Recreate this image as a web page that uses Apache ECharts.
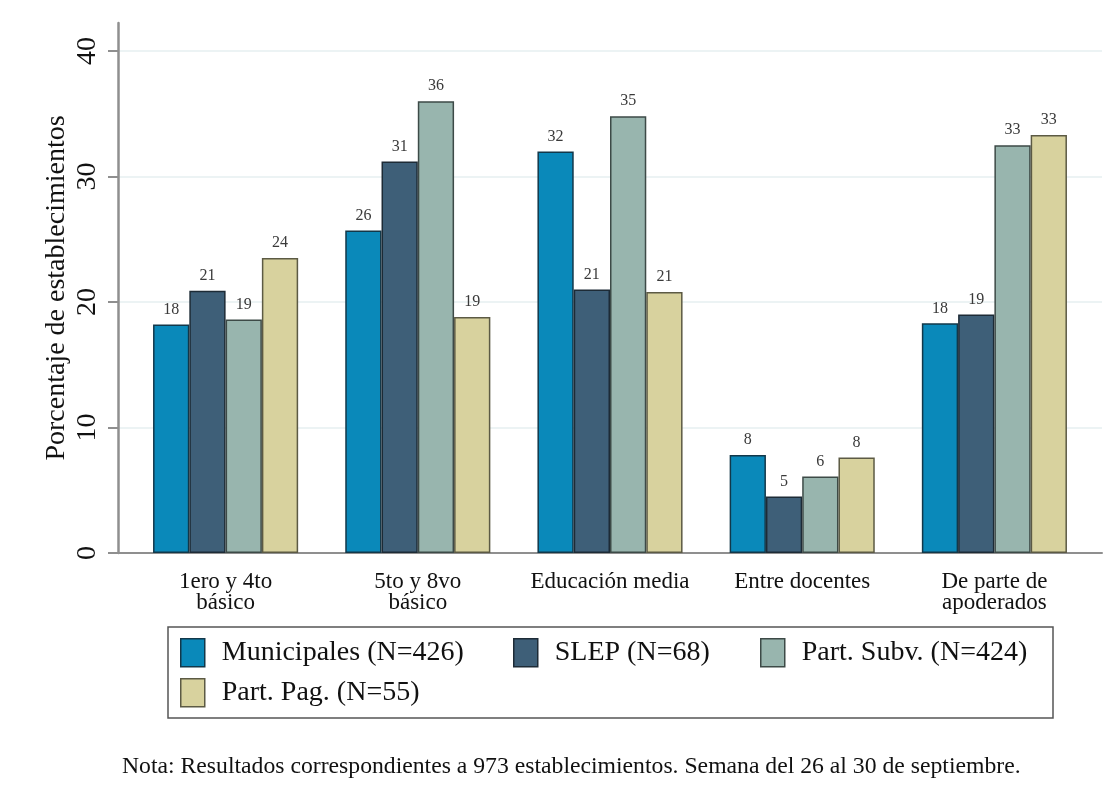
<!DOCTYPE html>
<html>
<head>
<meta charset="utf-8">
<script src="https://cdn.jsdelivr.net/npm/echarts@6/dist/echarts.min.js"></script>
<style>
html,body{margin:0;padding:0;background:#fff;}
#chart{width:1111px;height:793px;}
</style>
</head>
<body>
<div id="chart"></div>
<script>
// ---- data ----
const categories = ['1ero y 4to\nbásico', '5to y 8vo\nbásico', 'Educación media', 'Entre docentes', 'De parte de\napoderados'];
const seriesNames = ['Municipales (N=426)', 'SLEP (N=68)', 'Part. Subv. (N=424)', 'Part. Pag. (N=55)'];
const municipales = [18.2, 25.7, 32.0, 7.8, 18.3];
const slep        = [20.9, 31.2, 21.0, 4.5, 19.0];
const partSubv    = [18.6, 36.0, 34.8, 6.1, 32.5];
const partPag     = [23.5, 18.8, 20.8, 7.6, 33.3];
const yTicks = [0, 10, 20, 30, 40];
const yTitle = 'Porcentaje de establecimientos';
const note = 'Nota: Resultados correspondientes a 973 establecimientos. Semana del 26 al 30 de septiembre.';

// ---- styles ----
const serif = '"Liberation Serif", "Times New Roman", serif';
const fills = ['#0a89ba', '#3e5f78', '#98b5ae', '#d8d29e'];
const borders = ['#12384a', '#1d2b36', '#3d4a47', '#5c5a44'];
const values = [municipales, slep, partSubv, partPag];
const axisGray = '#8f8f8f';
const yMax = 40, plotTopVal = 42.23;

const chart = echarts.init(document.getElementById('chart'), null, {renderer: 'canvas'});

const series = seriesNames.map((name, i) => ({
  name: name,
  type: 'bar',
  xAxisIndex: 2,
  yAxisIndex: 2,
  data: values[i],
  barGap: '0%',
  barCategoryGap: '24.5%',
  itemStyle: {color: fills[i], borderColor: borders[i], borderWidth: 1.5},
  label: {
    show: true,
    position: 'top',
    distance: 7,
    fontFamily: serif,
    fontSize: 16,
    color: '#3a3a3a',
    formatter: p => String(Math.round(p.value))
  },
  emphasis: {disabled: true},
  z: 2
}));

const legendPos = [[180, 638], [513, 638], [760, 638], [180, 678]];
const legends = seriesNames.map((name, i) => ({
  data: [name],
  left: legendPos[i][0],
  top: legendPos[i][1],
  padding: 0,
  itemWidth: 24,
  itemHeight: 28,
  icon: 'rect',
  selectedMode: false,
  itemStyle: {borderColor: borders[i], borderWidth: 1.5},
  textStyle: {fontFamily: serif, fontSize: 28, color: '#111', padding: [0, 0, 0, 12]}
}));

const option = {
  backgroundColor: '#ffffff',
  animation: false,
  grid: [
    {left: 118, right: 9, top: 23, bottom: 240},
    {left: 118, right: 9, top: 51, bottom: 240},
    {left: 129.5, right: 20.5, top: 51, bottom: 240}
  ],
  xAxis: [
    {gridIndex: 0, type: 'value', show: false, min: 0, max: 1},
    {gridIndex: 1, type: 'value', min: 0, max: 1,
      axisLine: {show: true, lineStyle: {color: axisGray, width: 2}},
      axisTick: {show: false}, axisLabel: {show: false}, splitLine: {show: false}},
    {gridIndex: 2, type: 'category', data: categories,
      axisLine: {show: false}, axisTick: {show: false},
      axisLabel: {fontFamily: serif, fontSize: 23, color: '#111', lineHeight: 21, margin: 18, interval: 0}}
  ],
  yAxis: [
    {gridIndex: 0, type: 'value', min: 0, max: plotTopVal,
      name: yTitle, nameLocation: 'middle', nameGap: 47,
      nameTextStyle: {fontFamily: serif, fontSize: 28, color: '#111'},
      axisLine: {show: true, lineStyle: {color: axisGray, width: 2.5}},
      axisTick: {show: false}, axisLabel: {show: false}, splitLine: {show: false}},
    {gridIndex: 1, type: 'value', min: 0, max: yMax, interval: 10,
      axisLine: {show: false},
      axisTick: {show: true, length: 10, lineStyle: {color: axisGray, width: 2}},
      axisLabel: {show: true, rotate: 90, margin: 16, fontFamily: serif, fontSize: 28, color: '#111',
        formatter: v => (yTicks.indexOf(v) >= 0 ? String(v) : '')},
      splitLine: {show: true, lineStyle: {color: '#e6eff0', width: 1.5}}},
    {gridIndex: 2, type: 'value', min: 0, max: yMax, show: false}
  ],
  legend: legends,
  graphic: [
    {type: 'rect', z: 0, shape: {x: 168, y: 627, width: 885, height: 91},
      style: {fill: '#fff', stroke: '#555', lineWidth: 1.5}},
    {type: 'text', left: 122, top: 755,
      style: {text: note, fontFamily: serif, fontSize: 23.7, fill: '#111'}}
  ],
  series: series
};
chart.setOption(option);
</script>
</body>
</html>
